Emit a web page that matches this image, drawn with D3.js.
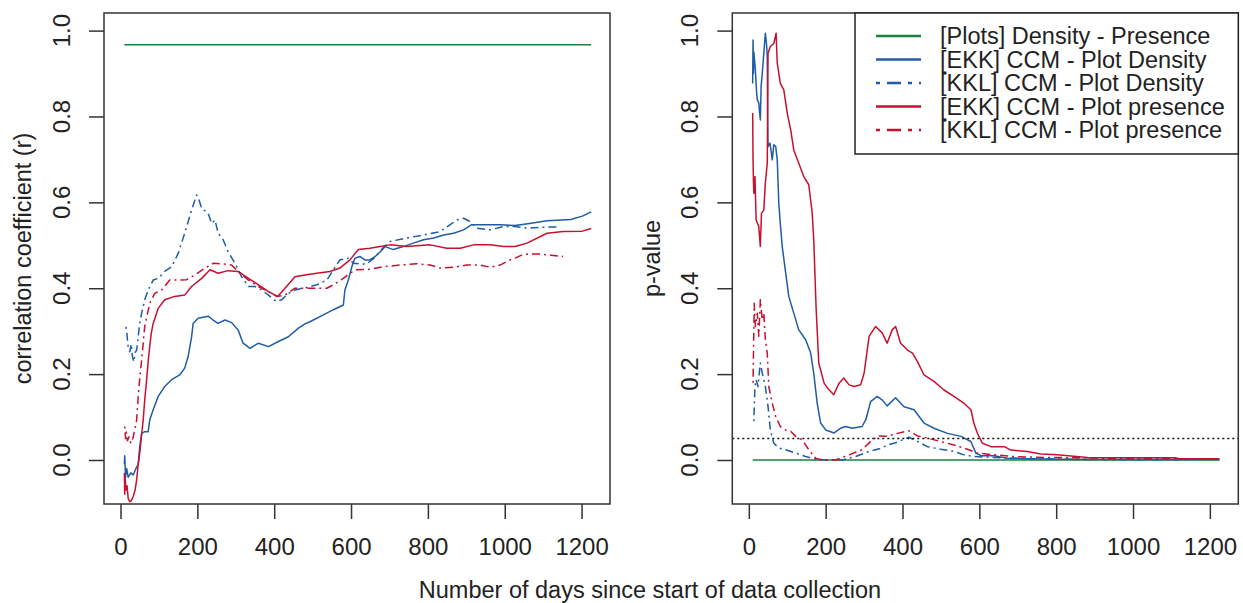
<!DOCTYPE html>
<html><head><meta charset="utf-8">
<script src="https://cdn.jsdelivr.net/npm/d3@7"></script>
<style>body{margin:0;background:#fff}svg{display:block}text{font-family:"Liberation Sans",Arial,sans-serif;fill:#222}</style>
</head><body><svg id="c" width="1243" height="603"></svg>
<script>
// ---------- data ----------
const xTicks = [0, 200, 400, 600, 800, 1000, 1200];
const yTicks = [0.0, 0.2, 0.4, 0.6, 0.8, 1.0];
const pThreshold = 0.05;
const legendLabels = ["[Plots] Density - Presence","[EKK] CCM - Plot Density","[KKL] CCM - Plot Density","[EKK] CCM - Plot presence","[KKL] CCM - Plot presence"];

// correlation coefficient (left panel): [day, r]
const rPlotsDensPres = [[10,0.967],[1225,0.967]];
const rEkkDensity = [[10,-0.01],[11,0.01],[13,-0.04],[16,-0.02],[20,-0.04],[27,-0.03],[33,-0.035],[40,-0.02],[46,-0.01],[50,0.031],[55,0.062],[63,0.066],[72,0.066],[76,0.093],[85,0.117],[98,0.148],[115,0.171],[133,0.187],[154,0.198],[167,0.214],[176,0.241],[185,0.287],[189,0.318],[202,0.33],[228,0.335],[241,0.326],[254,0.318],[272,0.326],[289,0.32],[306,0.303],[319,0.272],[337,0.26],[359,0.272],[385,0.264],[411,0.276],[437,0.287],[463,0.307],[480,0.317],[493,0.322],[528,0.338],[554,0.35],[580,0.361],[584,0.396],[593,0.419],[602,0.45],[610,0.47],[623,0.474],[636,0.466],[649,0.466],[663,0.474],[676,0.485],[689,0.497],[710,0.49],[736,0.497],[762,0.505],[789,0.513],[815,0.517],[841,0.524],[867,0.528],[893,0.536],[914,0.548],[945,0.548],[988,0.548],[1027,0.546],[1060,0.55],[1110,0.557],[1172,0.56],[1202,0.568],[1225,0.578]];
const rKklDensity = [[14,0.31],[16,0.30],[18,0.28],[20,0.264],[24,0.252],[28,0.27],[31,0.24],[35,0.229],[38,0.25],[42,0.256],[46,0.287],[50,0.318],[55,0.342],[63,0.373],[72,0.396],[85,0.419],[98,0.423],[115,0.439],[133,0.45],[150,0.481],[167,0.528],[185,0.582],[198,0.617],[202,0.613],[211,0.586],[228,0.575],[237,0.551],[246,0.559],[254,0.528],[267,0.513],[280,0.485],[298,0.458],[315,0.427],[333,0.404],[350,0.404],[367,0.396],[385,0.384],[406,0.369],[419,0.373],[437,0.388],[454,0.396],[476,0.4],[511,0.408],[537,0.419],[554,0.443],[571,0.466],[593,0.47],[606,0.458],[640,0.456],[660,0.47],[684,0.495],[702,0.509],[745,0.517],[789,0.524],[832,0.532],[858,0.548],[875,0.559],[893,0.563],[910,0.555],[927,0.54],[962,0.536],[997,0.544],[1027,0.544],[1060,0.54],[1100,0.542],[1141,0.543]];
const rEkkPresence = [[10,-0.03],[11,-0.08],[12,-0.04],[14,-0.07],[17,-0.06],[20,-0.09],[24,-0.097],[28,-0.095],[33,-0.085],[38,-0.07],[42,-0.046],[46,-0.01],[50,0.016],[55,0.06],[59,0.093],[63,0.14],[68,0.187],[72,0.23],[76,0.264],[80,0.295],[85,0.318],[98,0.353],[115,0.373],[141,0.381],[167,0.384],[185,0.404],[211,0.423],[233,0.443],[254,0.435],[280,0.441],[306,0.439],[333,0.423],[359,0.408],[385,0.392],[409,0.381],[432,0.404],[454,0.427],[480,0.431],[511,0.435],[545,0.439],[571,0.447],[597,0.466],[619,0.49],[649,0.493],[676,0.497],[702,0.501],[745,0.497],[806,0.501],[849,0.493],[884,0.493],[919,0.501],[962,0.501],[997,0.497],[1027,0.497],[1058,0.505],[1110,0.528],[1152,0.532],[1202,0.533],[1225,0.539]];
const rKklPresence = [[11,0.078],[13,0.05],[15,0.065],[18,0.045],[22,0.054],[27,0.039],[32,0.05],[37,0.07],[42,0.093],[46,0.148],[50,0.19],[55,0.233],[63,0.311],[76,0.365],[89,0.388],[107,0.396],[128,0.419],[150,0.419],[172,0.42],[194,0.431],[220,0.447],[241,0.458],[263,0.457],[289,0.454],[306,0.439],[333,0.419],[359,0.404],[385,0.392],[406,0.381],[428,0.384],[454,0.4],[476,0.4],[511,0.4],[537,0.4],[554,0.408],[580,0.423],[597,0.435],[615,0.443],[649,0.444],[684,0.45],[728,0.454],[771,0.457],[806,0.454],[832,0.447],[867,0.449],[901,0.454],[936,0.454],[962,0.449],[988,0.454],[1014,0.466],[1027,0.47],[1048,0.479],[1089,0.48],[1120,0.477],[1152,0.474]];

// p-values (right panel): [day, p]
const pPlotsDensPres = [[10,0],[1225,0]];
const pEkkDensity = [[10,0.877],[11,0.978],[12,0.90],[13,0.95],[15,0.93],[17,0.909],[20,0.86],[22,0.839],[26,0.831],[28,0.81],[30,0.792],[32,0.87],[35,0.9],[39,0.947],[43,0.994],[46,0.97],[48,0.94],[49,0.8],[50,0.73],[55,0.738],[58,0.72],[61,0.699],[65,0.734],[70,0.73],[74,0.699],[78,0.598],[82,0.55],[87,0.497],[96,0.435],[104,0.381],[117,0.342],[130,0.303],[148,0.28],[161,0.249],[169,0.202],[178,0.132],[187,0.086],[200,0.07],[222,0.063],[239,0.074],[252,0.078],[269,0.074],[295,0.078],[305,0.095],[317,0.136],[334,0.148],[347,0.14],[360,0.126],[382,0.145],[404,0.124],[430,0.117],[456,0.086],[482,0.074],[517,0.062],[552,0.055],[578,0.043],[591,0.016],[604,0.01],[638,0.01],[673,0.004],[800,0.002],[1000,0.001],[1225,0.001]];
const pKklDensity = [[13,0.09],[14,0.12],[16,0.171],[19,0.187],[24,0.171],[27,0.2],[30,0.226],[35,0.202],[39,0.187],[43,0.171],[50,0.125],[56,0.07],[65,0.039],[78,0.028],[96,0.024],[122,0.016],[148,0.008],[174,0.002],[200,0],[243,0],[278,0.008],[313,0.02],[347,0.028],[360,0.035],[382,0.04],[395,0.045],[417,0.053],[439,0.043],[465,0.031],[499,0.025],[534,0.02],[560,0.012],[586,0.008],[638,0.006],[725,0.003],[900,0.001],[1141,0.001]];
const pEkkPresence = [[10,0.808],[11,0.70],[12,0.65],[13,0.621],[16,0.66],[19,0.559],[23,0.55],[26,0.543],[30,0.497],[33,0.575],[39,0.582],[43,0.645],[48,0.691],[50,0.947],[56,0.963],[65,0.97],[71,0.994],[74,0.924],[82,0.877],[91,0.862],[100,0.808],[109,0.769],[117,0.722],[130,0.691],[143,0.66],[156,0.641],[165,0.575],[169,0.513],[175,0.357],[182,0.226],[196,0.179],[208,0.164],[221,0.152],[235,0.179],[247,0.191],[261,0.175],[274,0.171],[291,0.175],[300,0.202],[313,0.288],[330,0.311],[347,0.296],[360,0.272],[373,0.303],[382,0.311],[395,0.272],[413,0.256],[426,0.249],[439,0.229],[456,0.198],[482,0.183],[508,0.163],[534,0.148],[560,0.132],[578,0.117],[586,0.085],[595,0.062],[608,0.039],[630,0.031],[665,0.031],[682,0.023],[725,0.02],[760,0.014],[803,0.012],[881,0.006],[1021,0.005],[1110,0.005],[1120,0.003],[1225,0.003]];
const pKklPresence = [[11,0.18],[13,0.3],[14,0.365],[17,0.311],[22,0.342],[26,0.288],[30,0.373],[35,0.326],[39,0.342],[43,0.28],[48,0.249],[52,0.171],[61,0.132],[70,0.101],[82,0.078],[96,0.07],[109,0.067],[122,0.055],[139,0.047],[156,0.024],[174,0.004],[191,0],[226,0],[261,0.012],[295,0.024],[321,0.047],[339,0.056],[360,0.055],[387,0.062],[417,0.068],[439,0.056],[465,0.051],[499,0.043],[534,0.035],[569,0.025],[595,0.016],[638,0.012],[690,0.008],[768,0.006],[881,0.005],[986,0.003],[1141,0.003]];

// ---------- styles ----------
const GREEN = "#1b8040", BLUE = "#1f5ca6", RED = "#c8102e";
const DASHDOT = "2,4,8,4";
const styles = [
  {color: GREEN, dash: null},
  {color: BLUE, dash: null},
  {color: BLUE, dash: DASHDOT},
  {color: RED, dash: null},
  {color: RED, dash: DASHDOT}
];

const svg = d3.select("#c");
const plotTop = 13, plotBottom = 504;
const FS = 24;

function panel(x0, x1, seriesList, yTitle, withThreshold) {
  const x = d3.scaleLinear().domain([-43, 1274]).range([x0, x1]);
  const y = d3.scaleLinear().domain([-0.1025, 1.041]).range([plotBottom, plotTop]);
  const g = svg.append("g");

  seriesList.forEach((s, i) => {
    g.append("path").datum(s)
      .attr("fill", "none")
      .attr("stroke", styles[i].color)
      .attr("stroke-width", 1.5)
      .attr("stroke-dasharray", styles[i].dash)
      .attr("stroke-linejoin", "round")
      .attr("d", d3.line().x(d => x(d[0])).y(d => y(d[1])));
  });

  if (withThreshold) {
    g.append("line").attr("x1", x0).attr("x2", x1)
      .attr("y1", y(pThreshold)).attr("y2", y(pThreshold))
      .attr("stroke", "#111").attr("stroke-width", 1.5).attr("stroke-dasharray", "2,3");
  }

  g.append("rect").attr("x", x0).attr("y", plotTop).attr("width", x1 - x0).attr("height", plotBottom - plotTop)
    .attr("fill", "none").attr("stroke", "#333").attr("stroke-width", 1.5);

  const xa = g.append("g").attr("transform", `translate(0,${plotBottom})`)
    .call(d3.axisBottom(x).tickValues(xTicks).tickSize(15).tickSizeOuter(0).tickPadding(19).tickFormat(d3.format("d")));
  xa.select(".domain").remove();
  xa.selectAll("line").attr("stroke", "#333").attr("stroke-width", 1.5);
  xa.selectAll("text").attr("font-size", FS).attr("font-family", "Liberation Sans, Arial, sans-serif").attr("fill", "#222");

  const ya = g.append("g").attr("transform", `translate(${x0},0)`)
    .call(d3.axisLeft(y).tickValues(yTicks).tickSize(15).tickSizeOuter(0).tickFormat(""));
  ya.select(".domain").remove();
  ya.selectAll("line").attr("stroke", "#333").attr("stroke-width", 1.5);
  g.selectAll(".ylab").data(yTicks).enter().append("text")
    .attr("transform", d => `translate(${x0 - 43},${y(d)}) rotate(-90)`)
    .attr("text-anchor", "middle").attr("dy", "0.36em")
    .attr("font-size", FS).text(d => d3.format(".1f")(d));

  g.append("text")
    .attr("transform", `translate(${x0 - 81},${(plotTop + plotBottom) / 2}) rotate(-90)`)
    .attr("text-anchor", "middle").attr("dy", "0.36em")
    .attr("font-size", 23.5).text(yTitle);
  return {x, y};
}

panel(104, 610, [rPlotsDensPres, rEkkDensity, rKklDensity, rEkkPresence, rKklPresence], "correlation coefficient (r)", false);
panel(732.3, 1238.3, [pPlotsDensPres, pEkkDensity, pKklDensity, pEkkPresence, pKklPresence], "p-value", true);

svg.append("text").attr("x", 650).attr("y", 590).attr("dy", "0.36em")
  .attr("text-anchor", "middle").attr("font-size", 23.5)
  .text("Number of days since start of data collection");

const lg = svg.append("g");
lg.append("rect").attr("x", 855).attr("y", plotTop).attr("width", 1238.3 - 855).attr("height", 141)
  .attr("fill", "#fff").attr("stroke", "#222").attr("stroke-width", 1.5);
const rowY = d3.scaleLinear().domain([0, 4]).range([36, 130]);
legendLabels.forEach((lab, i) => {
  lg.append("line").attr("x1", 876).attr("x2", 921).attr("y1", rowY(i)).attr("y2", rowY(i))
    .attr("stroke", styles[i].color).attr("stroke-width", 2.6)
    .attr("stroke-dasharray", styles[i].dash ? "4,7,14,7" : null);
  lg.append("text").attr("x", 940).attr("y", rowY(i)).attr("dy", "0.36em")
    .attr("font-size", 23.5).text(lab);
});
</script></body></html>
